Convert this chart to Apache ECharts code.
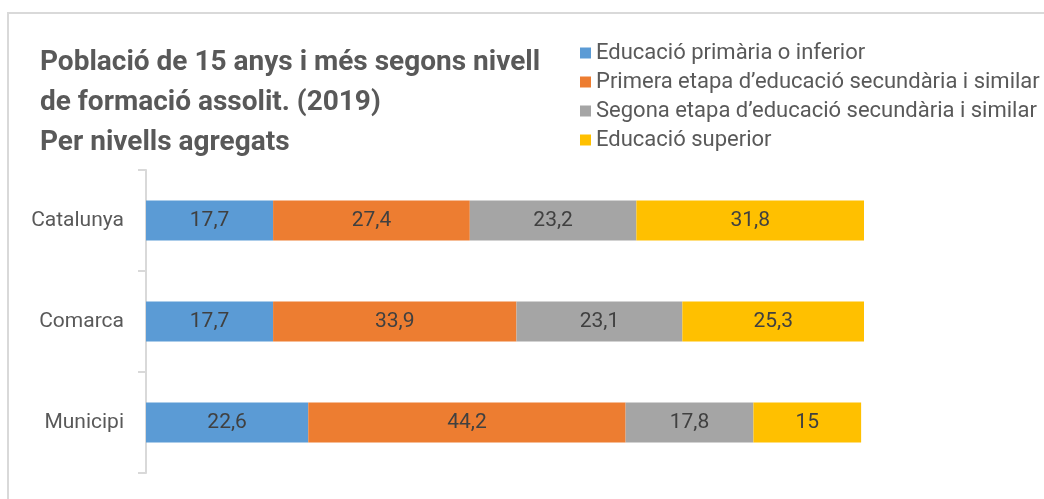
<!DOCTYPE html>
<html>
<head>
<meta charset="utf-8">
<script src="https://cdn.jsdelivr.net/npm/echarts@6/dist/echarts.min.js"></script>
<style>
  html, body { margin: 0; padding: 0; background: #fff; }
  #chart { width: 1044px; height: 499px; }
</style>
</head>
<body>
<div id="chart"></div>
<script>
// dades
var categories = ['Catalunya', 'Comarca', 'Municipi'];
var seriesNames = [
	'Educació primària o inferior',
	'Primera etapa d\u2019educació secundària i similar',
	'Segona etapa d\u2019educació secundària i similar',
	'Educació superior'
];
var primaria = [17.7, 17.7, 22.6];
var secundaria1 = [27.4, 33.9, 44.2];
var secundaria2 = [23.2, 23.1, 17.8];
var superior = [31.8, 25.3, 15];

var colors = ['#5B9BD5', '#ED7D31', '#A5A5A5', '#FFC000'];
var values = [primaria, secundaria1, secundaria2, superior];
var font = 'Roboto, "Noto Sans", sans-serif';

var myChart = echarts.init(document.getElementById('chart'));

var series = [];
for (var i = 0; i < values.length; i++) {
	series.push({
		name: seriesNames[i],
		type: 'bar',
		stack: 'total',
		barWidth: 40,
		data: values[i],
		itemStyle: { color: colors[i] },
		label: {
			show: true,
			position: 'inside',
			color: '#404040',
			fontFamily: font,
			fontSize: 21,
			formatter: function(p) {
				return String(p.value).replace('.', ',');
			}
		}
	});
}

var options = {
	animation: false,
	color: colors,
	title: {
		text: 'Població de 15 anys i més segons nivell\nde formació assolit. (2019)\nPer nivells agregats',
		left: 35,
		top: 38,
		textStyle: {
			color: '#595959',
			fontFamily: font,
			fontWeight: 'bold',
			fontSize: 28,
			lineHeight: 40
		}
	},
	legend: {
		orient: 'vertical',
		left: 575,
		top: 36,
		itemWidth: 11,
		itemHeight: 11,
		itemGap: 5,
		icon: 'rect',
		textStyle: {
			color: '#595959',
			fontFamily: font,
			fontSize: 22,
			lineHeight: 24,
			padding: [0, 0, 0, 0]
		},
		data: seriesNames
	},
	grid: {
		left: 146,
		right: 180,
		top: 170,
		bottom: 26
	},
	xAxis: {
		type: 'value',
		min: 0,
		max: 100,
		show: false
	},
	yAxis: {
		type: 'category',
		inverse: true,
		data: categories,
		axisLine: { lineStyle: { color: '#d9d9d9', width: 2 } },
		axisTick: { show: true, length: 8, lineStyle: { color: '#d9d9d9', width: 2 } },
		axisLabel: {
			color: '#595959',
			fontFamily: font,
			fontSize: 21,
			margin: 22
		}
	},
	graphic: [{
		type: 'polyline',
		shape: { points: [[8, 499], [8, 13], [1044, 13]] },
		style: { stroke: '#d9d9d9', lineWidth: 2, fill: null }
	}],
	series: series
};

myChart.setOption(options);
</script>
</body>
</html>
